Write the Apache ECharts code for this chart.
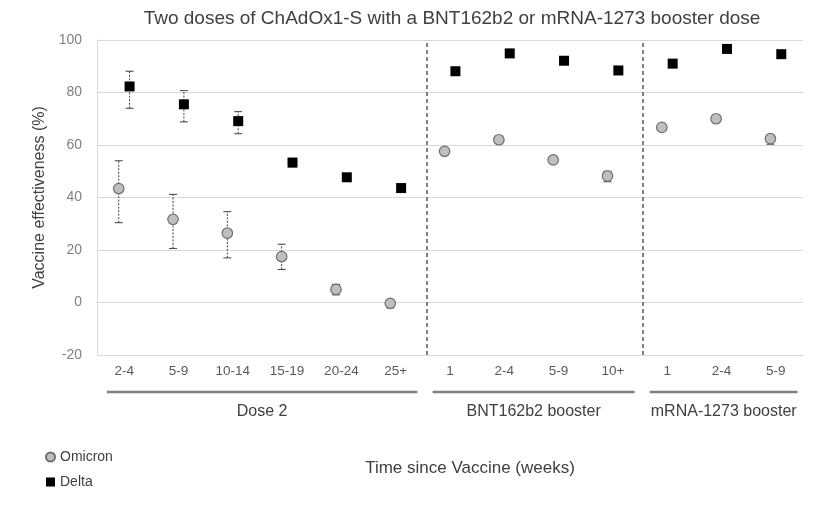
<!DOCTYPE html>
<html>
<head>
<meta charset="utf-8">
<script src="https://cdn.jsdelivr.net/npm/echarts@6/dist/echarts.min.js"></script>
<style>html,body{margin:0;padding:0;background:#fff}#c{width:831px;height:506px}</style>
</head>
<body>
<div id="c"></div>
<script>
// ---- data ----
const categories = ['2-4','5-9','10-14','15-19','20-24','25+','1','2-4','5-9','10+','1','2-4','5-9'];
const groupNames = ['Dose 2','BNT162b2 booster','mRNA-1273 booster'];
const groupSizes = [6, 4, 3];
const yTicks = [-20, 0, 20, 40, 60, 80, 100];

const omicron     = [43.4, 31.7, 26.4, 17.5, 5.0, -0.3, 57.6, 62.0, 54.3, 48.2, 66.7, 70.0, 62.4];
const omicronLow  = [30.4, 20.6, 17.0, 12.6, 2.9, -2.0, null, null, null, 46.0, null, null, 60.3];
const omicronHigh = [54.0, 41.2, 34.6, 22.2, 6.9,  0.6, null, null, null, 50.0, null, null, 63.5];

const delta     = [82.3, 75.5, 69.1, 53.3, 47.7, 43.6, 88.1, 94.9, 92.1, 88.4, 91.0, 96.6, 94.6];
const deltaLow  = [74.0, 68.8, 64.3, 51.7, null, null, null, null, null, null, null, null, null];
const deltaHigh = [88.1, 80.7, 72.7, 54.9, null, null, null, null, null, null, null, null, null];

// ---- build ----
const OFF = 0.1;
const omiPts = omicron.map((v, i) => [i + 0.5 - OFF, v]);
const delPts = delta.map((v, i) => [i + 0.5 + OFF, v]);
const errData = [];
omicronLow.forEach((l, i) => { if (l !== null) errData.push([i + 0.5 - OFF, l, omicronHigh[i]]); });
deltaLow.forEach((l, i) => { if (l !== null) errData.push([i + 0.5 + OFF, l, deltaHigh[i]]); });

const groupData = [];
let s = 0;
groupSizes.forEach((n, gi) => { groupData.push([s, n, gi]); s += n; });
const dividers = [groupSizes[0] + 0.08, groupSizes[0] + groupSizes[1] + 0.05];

const chart = echarts.init(document.getElementById('c'));
const FONT = '"Liberation Sans", Arial, sans-serif';
chart.setOption({
  animation: false,
  textStyle: { fontFamily: FONT },
  title: {
    text: 'Two doses of ChAdOx1-S with a BNT162b2 or mRNA-1273 booster dose',
    left: 447, top: 4, textAlign: 'center',
    textStyle: { fontFamily: FONT, fontSize: 19, fontWeight: 'normal', color: '#404040' }
  },
  legend: {
    orient: 'vertical', left: 40, top: 445, itemWidth: 9, itemHeight: 9, itemGap: 11,
    textStyle: { fontFamily: FONT, fontSize: 14, color: '#404040' },
    data: [{ name: 'Omicron', icon: 'circle' }, { name: 'Delta', icon: 'rect' }]
  },
  grid: { left: 97, right: 28, top: 40, bottom: 151 },
  xAxis: [
    {
      type: 'category', data: categories, boundaryGap: true,
      axisLine: { show: true, lineStyle: { color: '#d9d9d9' } },
      axisTick: { show: false },
      axisLabel: { color: '#595959', fontSize: 13.5, margin: 9, interval: 0, fontFamily: FONT },
      name: 'Time since Vaccine (weeks)', nameLocation: 'middle', nameGap: 105,
      nameTextStyle: { fontFamily: FONT, fontSize: 17, color: '#404040', padding: [0, 0, 0, 40] }
    },
    { type: 'value', min: 0, max: 13, show: false }
  ],
  yAxis: {
    type: 'value', min: yTicks[0], max: yTicks[yTicks.length - 1], interval: 20,
    axisLine: { show: true, lineStyle: { color: '#d9d9d9' } },
    axisTick: { show: false },
    splitLine: { lineStyle: { color: '#d9d9d9' } },
    axisLabel: { color: '#7f7f7f', fontSize: 14, margin: 15, fontFamily: FONT },
    name: 'Vaccine effectiveness (%)', nameLocation: 'middle', nameGap: 39, nameRotate: 90,
    nameTextStyle: { fontFamily: FONT, fontSize: 16, color: '#404040' }
  },
  series: [
    {
      type: 'custom', name: 'err', xAxisIndex: 1, z: 2, silent: true,
      data: errData,
      renderItem: function (params, api) {
        const x = api.value(0);
        const lo = api.coord([x, api.value(1)]);
        const hi = api.coord([x, api.value(2)]);
        const w = 4;
        const st = { stroke: '#404040', lineWidth: 1 };
        return {
          type: 'group', children: [
            { type: 'line', shape: { x1: lo[0], y1: lo[1], x2: hi[0], y2: hi[1] }, style: Object.assign({ lineDash: [2, 1.5] }, st) },
            { type: 'line', shape: { x1: lo[0] - w, y1: lo[1], x2: lo[0] + w, y2: lo[1] }, style: st },
            { type: 'line', shape: { x1: hi[0] - w, y1: hi[1], x2: hi[0] + w, y2: hi[1] }, style: st }
          ]
        };
      }
    },
    {
      type: 'scatter', name: 'Omicron', xAxisIndex: 1, z: 5, data: omiPts,
      symbol: 'circle', symbolSize: 10.5,
      itemStyle: { color: '#bfbfbf', borderColor: '#6f6f6f', borderWidth: 1.2, opacity: 1 },
      markLine: {
        silent: true, symbol: 'none', label: { show: false },
        lineStyle: { color: '#595959', type: [4, 3], width: 1.5 },
        data: dividers.map(d => ({ xAxis: d }))
      }
    },
    {
      type: 'scatter', name: 'Delta', xAxisIndex: 1, z: 5, data: delPts,
      symbol: 'rect', symbolSize: 10,
      itemStyle: { color: '#000000', opacity: 1 }
    },
    {
      type: 'custom', name: 'groups', xAxisIndex: 1, silent: true, clip: false,
      data: groupData,
      renderItem: function (params, api) {
        const st = api.value(0), n = api.value(1), gi = api.value(2);
        const base = api.coord([0, yTicks[0]])[1];
        const a = api.coord([st + 0.18, yTicks[0]])[0];
        const b = api.coord([st + n - 0.1, yTicks[0]])[0];
        return {
          type: 'group', children: [
            { type: 'line', shape: { x1: a, y1: base + 37, x2: b, y2: base + 37 }, style: { stroke: '#7f7f7f', lineWidth: 2.5 } },
            { type: 'text', x: (a + b) / 2, y: base + 57, style: { text: groupNames[gi], align: 'center', verticalAlign: 'middle', font: '16px ' + FONT, fill: '#404040' } }
          ]
        };
      }
    }
  ]
});
</script>
</body>
</html>
